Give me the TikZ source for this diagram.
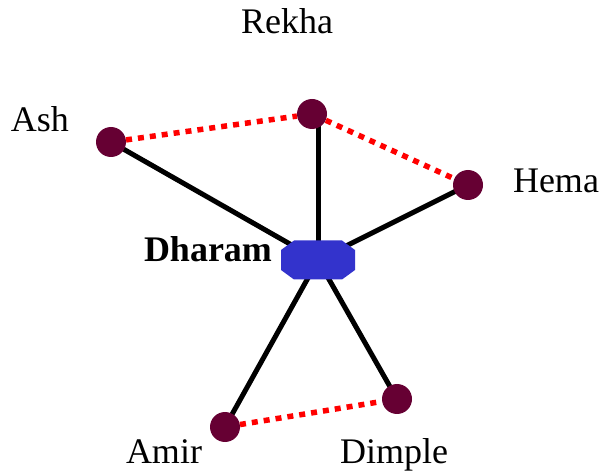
\documentclass[tikz,border=0pt]{standalone}
\usepackage{fontspec}
\setmainfont{Liberation Serif}
\usepackage{tikz}

\definecolor{friendpurple}{HTML}{660033}
\definecolor{hubblue}{HTML}{3333CC}

\pgfdeclarelayer{background}
\pgfsetlayers{background,main}

\tikzset{
  person/.style={circle, fill=friendpurple, inner sep=0pt, minimum size=30pt},
  hub/.style={inner sep=0pt, minimum width=74pt, minimum height=39pt},
  tie/.style={line width=5pt, black},
  rival/.style={line width=5.5pt, red, dash pattern=on 6pt off 6pt},
  tag/.style={anchor=base, font=\fontsize{36}{40}\selectfont}
}

\begin{document}
\begin{tikzpicture}[x=1pt, y=1pt]
\useasboundingbox (0,0) rectangle (606,472);

\node[hub] (dharam) at (318,212) {};
\node[person] (rekha) at (312,358) {};
\node[person] (ash) at (111,330) {};
\node[person] (hema) at (468,287) {};
\node[person] (amir) at (225,45) {};
\node[person] (dimple) at (397,73) {};

\begin{pgfonlayer}{background}
\draw[tie] (dharam.center) -- (ash.center);
\draw[tie] (dharam.center) -- (dharam.center |- rekha.center);
\draw[tie] (dharam.center) -- (hema.center);
\draw[tie] (dharam.center) -- (amir.center);
\draw[tie] (dharam.center) -- (dimple.center);
\end{pgfonlayer}

% octagon for the hub
\fill[hubblue, shift={(dharam.center)}]
  (-24,19.5) -- (24,19.5) -- (37,10) -- (37,-10) -- (24,-19.5)
  -- (-24,-19.5) -- (-37,-10) -- (-37,10) -- cycle;

\draw[rival] (ash) -- (rekha);
\draw[rival] (rekha) -- (hema);
\draw[rival] (amir) -- (dimple);

\node[tag] (rekha-lbl) at (287,438) {Rekha};
\node[tag] (ash-lbl) at (40,340) {Ash};
\node[tag] (hema-lbl) at (556,279) {Hema};
\node[tag, font=\fontsize{36}{40}\selectfont\bfseries] (dharam-lbl) at (208,210) {Dharam};
\node[tag] (amir-lbl) at (164,9) {Amir};
\node[tag] (dimple-lbl) at (394,9) {Dimple};
\end{tikzpicture}
\end{document}
